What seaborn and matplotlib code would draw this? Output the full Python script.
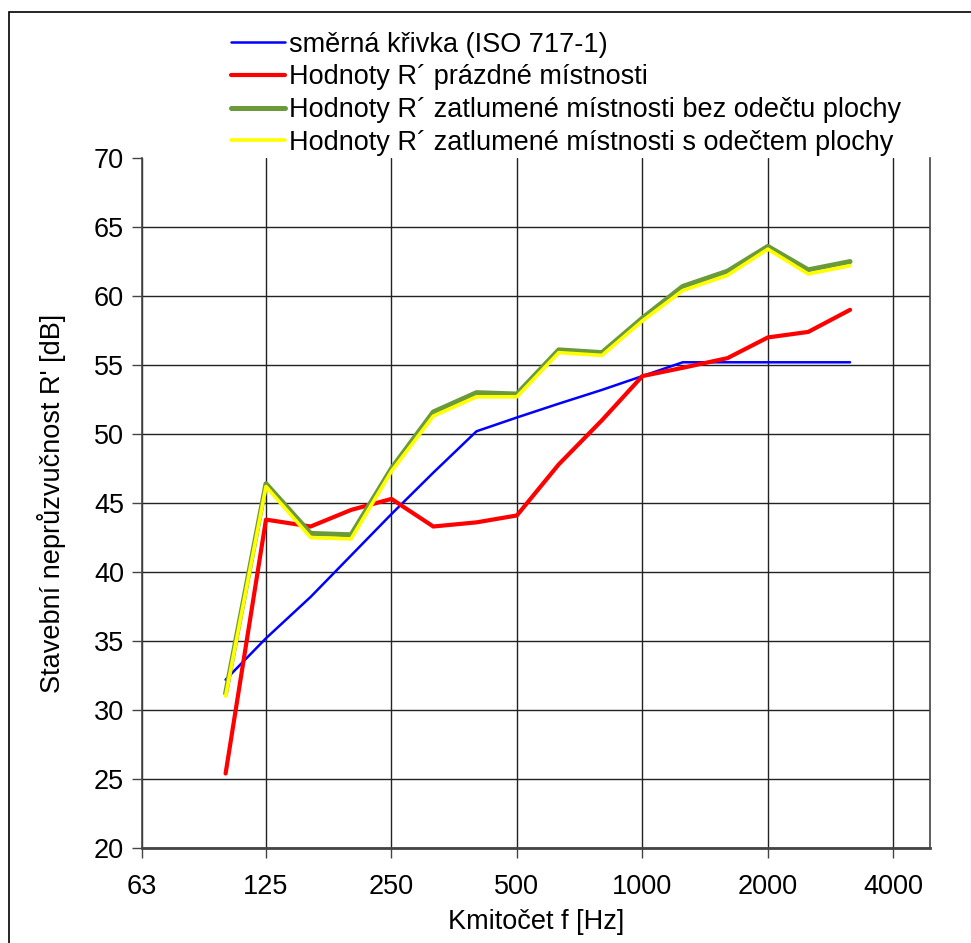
import numpy as np
import pandas as pd
import matplotlib.pyplot as plt
import seaborn as sns
from matplotlib.patches import Rectangle

sns.set_style('white')
plt.rcParams['font.family'] = ['Liberation Sans', 'DejaVu Sans']
plt.rcParams['text.color'] = 'black'
plt.rcParams['axes.labelcolor'] = 'black'
plt.rcParams['xtick.color'] = 'black'
plt.rcParams['ytick.color'] = 'black'

# tercinova pasma
freq = [100, 125, 160, 200, 250, 315, 400, 500, 630, 800, 1000, 1250, 1600, 2000, 2500, 3150]

ref_curve = [32.2, 35.2, 38.2, 41.2, 44.2, 47.2, 50.2, 51.2, 52.2, 53.2, 54.2, 55.2, 55.2, 55.2, 55.2, 55.2]
r_empty = [25.4, 43.8, 43.3, 44.5, 45.3, 43.3, 43.6, 44.1, 47.8, 51.0, 54.2, 54.8, 55.5, 57.0, 57.4, 59.0]
r_damped = [31.2, 46.4, 42.8, 42.7, 47.5, 51.6, 53.0, 52.9, 56.1, 55.9, 58.4, 60.7, 61.8, 63.6, 61.9, 62.5]
r_damped_corr = [31.0, 46.2, 42.5, 42.4, 47.3, 51.3, 52.7, 52.7, 55.9, 55.7, 58.2, 60.4, 61.5, 63.4, 61.6, 62.2]

names = ['směrná křivka (ISO 717-1)',
         'Hodnoty R´ prázdné místnosti',
         'Hodnoty R´ zatlumené místnosti bez odečtu plochy',
         'Hodnoty R´ zatlumené místnosti s odečtem plochy']

x_ticks = [63, 125, 250, 500, 1000, 2000, 4000]
y_ticks = [20, 25, 30, 35, 40, 45, 50, 55, 60, 65, 70]

df = pd.DataFrame({
    'f': freq * 4,
    'R': ref_curve + r_empty + r_damped + r_damped_corr,
    'serie': [n for n in names for _ in freq],
})

colors = ['#0000FF', '#FF0000', '#6A9A3A', '#FFFF00']
widths = [1.8, 3.0, 3.6, 2.6]
fs = 19.5

fig = plt.figure(figsize=(9.71, 9.43), dpi=100)
ax = fig.add_axes([0.1462, 0.1007, 0.8116, 0.7317])

for name, c, lw in zip(names, colors, widths):
    sns.lineplot(x='f', y='R', data=df[df['serie'] == name], ax=ax, color=c, linewidth=lw, label=name)

ax.set_xscale('log')
ax.set_xlim(63, 4900)
ax.set_ylim(20, 70)
ax.set_xticks(x_ticks)
ax.set_xticklabels([str(t) for t in x_ticks])
ax.xaxis.set_minor_locator(plt.NullLocator())
ax.set_yticks(y_ticks)

ax.grid(True, color='#222222', linewidth=1.0)
ax.yaxis.get_gridlines()[-1].set_visible(False)
ax.set_axisbelow(True)
ax.spines['top'].set_visible(False)
for s in ['left', 'right']:
    ax.spines[s].set_color('#444444')
    ax.spines[s].set_linewidth(1.2)
ax.spines['bottom'].set_color('#444444')
ax.spines['bottom'].set_linewidth(2.0)

ax.tick_params(axis='both', labelsize=fs, length=7, width=1, color='#444444', direction='out',
               bottom=True, left=True, pad=6)
ax.tick_params(axis='x', pad=12)
ax.set_xlabel('Kmitočet f [Hz]', fontsize=fs, labelpad=6)
ax.set_ylabel("Stavební neprůzvučnost R' [dB]", fontsize=fs, labelpad=20)

ax.get_legend().remove()
h, l = ax.get_legend_handles_labels()
fig.legend(h, l, loc='upper left', bbox_to_anchor=(0.227, 0.978), frameon=False,
           fontsize=fs, handlelength=2.0, handletextpad=0.12, labelspacing=0.25, borderaxespad=0)

# ramecek grafu
fig.patches.append(Rectangle((9 / 971, -0.05), 1.1, 1 - 12 / 943 + 0.05, transform=fig.transFigure,
                             fill=False, edgecolor='black', linewidth=1.2))

fig.savefig('out.png', dpi=100)
